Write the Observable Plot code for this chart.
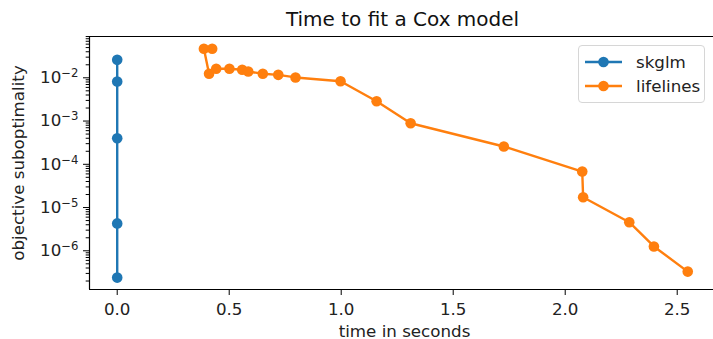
<!DOCTYPE html>
<html><head><meta charset="utf-8">
<script src="https://cdn.jsdelivr.net/npm/d3@7"></script>
<script src="https://cdn.jsdelivr.net/npm/@observablehq/plot@0.6"></script>
<style>
body{margin:0;background:#fff;font-family:"DejaVu Sans",sans-serif}
#wrap{position:relative;width:713px;height:339px;overflow:hidden}
#legend{position:absolute;left:578px;top:45px;width:127px;height:58px;box-sizing:border-box;border:1px solid #d6d6d6;border-radius:4px;background:rgba(255,255,255,0.8);font-size:16.7px;color:#222}
.entry{position:absolute;left:6px;height:22px;display:flex;align-items:center}
.entry span{margin-left:13px}
</style>
</head><body><div id="wrap"></div>
<script>
const title = "Time to fit a Cox model";
const xLabel = "time in seconds";
const yLabel = "objective suboptimality";
const seriesNames = ["skglm", "lifelines"];
const seriesColors = ["#1f77b4", "#ff7f0e"];
const skglmTime = [0, 0, 0, 0, 0];
const skglmSubopt = [0.026, 0.0082, 4.0e-4, 4.3e-6, 2.4e-7];
const lifelinesTime = [0.424, 0.387, 0.410, 0.442, 0.501, 0.558, 0.585, 0.650, 0.719, 0.796, 0.997, 1.158, 1.310, 1.726, 2.076, 2.080, 2.286, 2.396, 2.547];
const lifelinesSubopt = [0.0469, 0.0469, 0.0124, 0.0162, 0.0162, 0.0153, 0.0140, 0.0124, 0.0117, 0.0102, 0.00834, 0.00288, 8.9e-4, 2.58e-4, 6.8e-5, 1.73e-5, 4.58e-6, 1.26e-6, 3.3e-7];
const xTicks = [0, 0.5, 1.0, 1.5, 2.0, 2.5];
const yTicks = [1e-6, 1e-5, 1e-4, 1e-3, 1e-2];

const rows = [
  ...skglmTime.map((t, i) => ({series: seriesNames[0], t, v: skglmSubopt[i]})),
  ...lifelinesTime.map((t, i) => ({series: seriesNames[1], t, v: lifelinesSubopt[i]}))
];
const xDomain = [-0.1237, 2.662];
const yDomain = [10 ** -6.895, 10 ** -1.045];
const minor = [];
for (let k = -8; k <= 0; k++) for (let m = 2; m <= 9; m++) {
  const v = m * 10 ** k;
  if (v > yDomain[0] && v < yDomain[1]) minor.push(v);
}
const fmtPow = v => "10^" + Math.round(Math.log10(v));

const chart = Plot.plot({
  width: 713, height: 339,
  marginLeft: 89, marginRight: 0, marginTop: 36, marginBottom: 50,
  style: {fontFamily: "DejaVu Sans, sans-serif", fontSize: "16.7px", color: "#222", background: "white", overflow: "visible"},
  x: {domain: xDomain, label: null},
  y: {type: "log", domain: yDomain, label: null},
  color: {domain: seriesNames, range: seriesColors},
  marks: [
    Plot.ruleX([xDomain[0]], {stroke: "black", strokeWidth: 1.2}),
    Plot.ruleY([yDomain[0], yDomain[1]], {stroke: "black", strokeWidth: 1.2}),
    Plot.axisX(xTicks, {tickSize: 6, tickPadding: 8, tickFormat: d => d.toFixed(1), fontSize: 16.7, label: null, stroke: "black", fill: "#222"}),
    Plot.axisY(minor, {tickSize: 3.3, tickFormat: () => "", label: null, stroke: "black"}),
    Plot.axisY(yTicks, {tickSize: 6, tickPadding: 5, tickFormat: fmtPow, fontSize: 16.7, label: null, stroke: "black", fill: "#222"}),
    Plot.text([xLabel], {frameAnchor: "bottom", dy: 47, fontSize: 16.7, fill: "#222", dx: 3}),
    Plot.text([yLabel], {frameAnchor: "left", textAnchor: "middle", dx: -71, rotate: -90, fontSize: 16.7, fill: "#222"}),
    Plot.text([title], {frameAnchor: "top", dy: -25, dx: 1, fontSize: 20, fill: "#111"}),
    Plot.line(rows, {x: "t", y: "v", z: "series", stroke: "series", strokeWidth: 2.4}),
    Plot.dot(rows, {x: "t", y: "v", fill: "series", r: 5.3})
  ]
});
const wrap = document.getElementById("wrap");
wrap.appendChild(chart);

// render exponents as superscripts (matplotlib mathtext style)
chart.querySelectorAll("text").forEach(t => {
  const m = /^10\^(-?\d+)$/.exec(t.textContent);
  if (!m) return;
  t.textContent = "";
  const base = document.createElementNS("http://www.w3.org/2000/svg", "tspan");
  base.textContent = "10";
  const ex = document.createElementNS("http://www.w3.org/2000/svg", "tspan");
  ex.textContent = m[1].replace("-", "\u2212");
  ex.setAttribute("dy", "-6");
  ex.setAttribute("font-size", "11.7");
  t.appendChild(base);
  t.appendChild(ex);
});

const legend = document.createElement("div");
legend.id = "legend";
seriesNames.forEach((name, i) => {
  const e = document.createElement("div");
  e.className = "entry";
  e.style.top = (5 + i * 24) + "px";
  e.innerHTML = `<svg width="38" height="12"><line x1="0" x2="37" y1="6" y2="6" stroke="${seriesColors[i]}" stroke-width="2.4"/><circle cx="18.5" cy="6" r="5.3" fill="${seriesColors[i]}"/></svg><span>${name}</span>`;
  legend.appendChild(e);
});
wrap.appendChild(legend);
</script>
</body></html>
